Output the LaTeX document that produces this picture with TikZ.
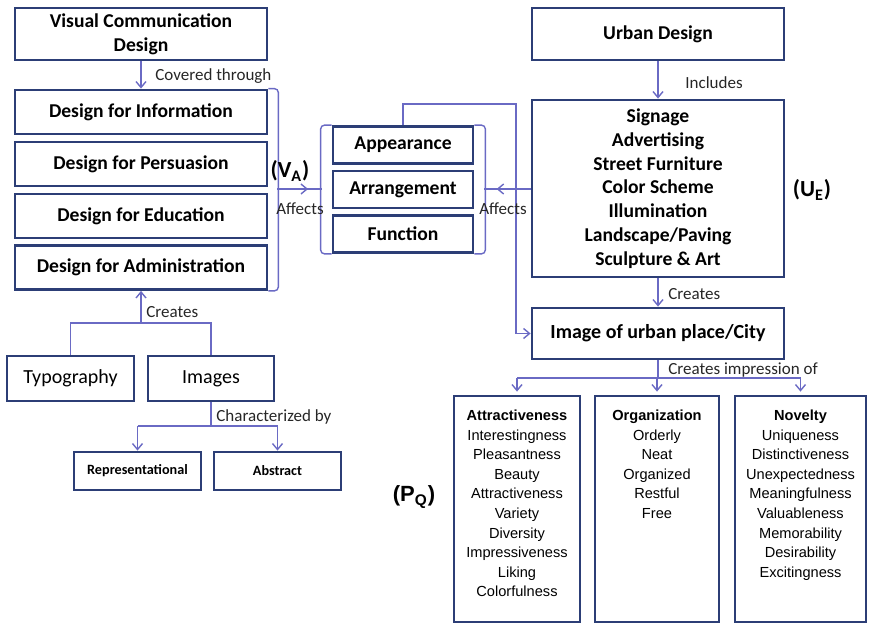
\documentclass[tikz,border=0pt]{standalone}
\usepackage{fontspec}
\setmainfont{Carlito}
\newfontfamily\arialfont{Liberation Sans}
\usetikzlibrary{arrows.meta,decorations.markings}
\definecolor{boxblue}{RGB}{44,62,118}
\definecolor{linkblue}{RGB}{106,106,196}
\tikzset{
  box/.style={draw=boxblue,line width=1.4pt,align=center,inner sep=0pt,
    font=\fontsize{9.8}{11.9}\selectfont\bfseries},
  pbox/.style={box,inner xsep=0pt,inner ysep=7pt,font=\arialfont\fontsize{7.3}{9.8}\selectfont},
  conn/.style={draw=linkblue,line width=0.7pt},
  arr/.style={conn,-{Straight Barb[length=3pt,width=5pt]}},
  midarr/.style={conn,postaction={decorate},decoration={markings,
    mark=at position #1 with {\arrow{Straight Barb[length=3pt,width=5pt]}}}},
  lbl/.style={font=\fontsize{8.5}{10}\selectfont,text=black!85,inner sep=0pt},
  tag/.style={font=\fontsize{11.5}{13}\selectfont\bfseries,inner sep=0pt},
}

\begin{document}
\begin{tikzpicture}[x=0.5pt,y=-0.5pt]
      \useasboundingbox (0,0) rectangle (869,626);
      \node[box,minimum width=126pt,minimum height=26pt] (vcd) at (141,34) {Visual Communication\\Design};
      \foreach \y/\nm/\txt in {112/dinfo/Information,164/dpers/Persuasion,216/dedu/Education,267.5/dadm/Administration}
        \node[box,minimum width=126pt,minimum height=22pt] (\nm) at (141,\y) {Design for \txt};
      \node[box,font=\fontsize{10}{12}\selectfont,minimum width=63.5pt,minimum height=22.5pt] (typo) at (70.5,378.5) {Typography};
      \node[box,font=\fontsize{10}{12}\selectfont,minimum width=63pt,minimum height=22.5pt] (imgs) at (211,378.5) {Images};
      \node[box,font=\fontsize{7.1}{8}\selectfont\bfseries,minimum width=63.5pt,minimum height=19pt] (repr) at (137.5,471) {Representational};
      \node[box,font=\fontsize{7.1}{8}\selectfont\bfseries,minimum width=63.5pt,minimum height=19pt] (abst) at (277.5,471) {Abstract};
      \foreach \y/\nm/\txt in {145/appear/Appearance,189.5/arrange/Arrangement,234/func/Function}
        \node[box,minimum width=70pt,minimum height=18.5pt] (\nm) at (403,\y) {\txt};
      \node[box,minimum width=126pt,minimum height=26pt] (urban) at (658,34) {Urban Design};
      \node[box,minimum width=126pt,minimum height=88.5pt] (ue) at (658,188.5) {Signage\\Advertising\\Street Furniture\\Color Scheme\\Illumination\\Landscape/Paving\\Sculpture \& Art};
      \node[box,font=\fontsize{10}{12}\selectfont\bfseries,minimum width=126pt,minimum height=25.5pt] (cityimg) at (658,333.5) {Image of urban place/City};
      \node[pbox] (attr) at (517,509) {\parbox[t][99pt][t]{63pt}{\centering\textbf{Attractiveness}\\Interestingness\\Pleasantness\\Beauty\\Attractiveness\\Variety\\Diversity\\Impressiveness\\Liking\\Colorfulness}};
      \node[pbox] (orga) at (657,509) {\parbox[t][99pt][t]{62pt}{\centering\textbf{Organization}\\Orderly\\Neat\\Organized\\Restful\\Free}};
      \node[pbox] (novel) at (800.5,509) {\parbox[t][99pt][t]{65.5pt}{\centering\textbf{Novelty}\\Uniqueness\\Distinctiveness\\Unexpectedness\\Meaningfulness\\Valuableness\\Memorability\\Desirability\\Excitingness}};

      \draw[arr] (vcd) -- (dinfo);
      \draw[conn,rounded corners=2pt] (dinfo.north east) -- ++(10,0) |- (dadm.south east);
      \draw[conn,rounded corners=2pt] (appear.north west) -- ++(-11,0) |- (func.south west);
      \draw[conn,rounded corners=2pt] (appear.north east) -- ++(11,0) |- (func.south east);
      \coordinate (va) at (277,189);
      \coordinate (lbr) at (322,189);
      \coordinate (rbr) at (484,189);
      \draw[midarr=0.69] (va) -- (lbr);
      \draw[midarr=0.73] (ue.west |- rbr) -- (rbr);
      \draw[arr] (appear.north) |- (516,104) |- (cityimg.west);
      \draw[arr] (urban) -- (ue);
      \draw[arr] (ue) -- (cityimg);
      \coordinate (split) at (658,378);
      \draw[conn] (cityimg.south) -- (split);
      \draw[conn] (attr.north |- split) -- (novel.north |- split);
      \foreach \nm in {attr,orga,novel}
        \draw[arr,shorten >=1.5pt] (\nm.north |- split) -- (\nm.north);
      \coordinate (join) at (141,323);
      \draw[conn] (typo.north) |- (join) -| (imgs.north);
      \draw[arr] (join) -- (join |- dadm.south);
      \coordinate (fork) at (211,426);
      \draw[conn] (imgs.south) -- (fork);
      \draw[conn] (repr.north |- fork) -- (abst.north |- fork);
      \foreach \nm in {repr,abst}
        \draw[arr] (\nm.north |- fork) -- (\nm.north);

      \node[lbl,anchor=west] (covered) at (155,76) {Covered through};
      \node[tag] (valabel) at (290,171) {(V\textsubscript{A})};
      \node[lbl] (affl) at (300,209) {Affects};
      \node[lbl] (affr) at (503,209) {Affects};
      \node[lbl,anchor=west] (incl) at (685,83) {Includes};
      \node[tag] (uelabel) at (812,190) {(U\textsubscript{E})};
      \node[lbl,anchor=west] (rcreates) at (668,294) {Creates};
      \node[lbl,anchor=west] (impr) at (668,370) {Creates impression of};
      \node[tag,font=\arialfont\fontsize{11}{13}\selectfont\bfseries] (pqlabel) at (414,497) {(P\textsubscript{Q})};
      \node[lbl,anchor=west] (lcreates) at (146,312) {Creates};
      \node[lbl,anchor=west] (charby) at (216,417) {Characterized by};
\end{tikzpicture}
\end{document}
